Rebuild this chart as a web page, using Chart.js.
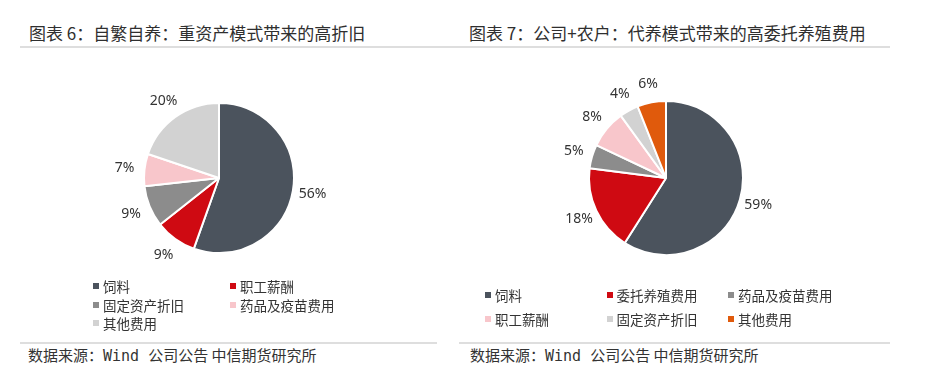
<!DOCTYPE html>
<html>
<head>
<meta charset="utf-8">
<script src="https://cdn.jsdelivr.net/npm/chart.js@4"></script>
<style>
  html, body { margin: 0; padding: 0; background: #fff; }
  body { width: 937px; height: 390px; position: relative; overflow: hidden;
         font-family: "Noto Sans CJK SC", "Noto Sans", sans-serif; color: #333; }
  .title { position: absolute; top: 22px; font-size: 17px; line-height: 22px; white-space: nowrap; color: #2f2f2f; }
  .rule { position: absolute; height: 2px; background: #dedede; }
  .source { position: absolute; top: 345px; font-size: 15px; line-height: 20px; white-space: nowrap; color: #333;
            font-family: "DejaVu Sans Mono", "Noto Sans CJK SC", monospace; }
  .source .cjk { font-family: "Noto Sans CJK SC", sans-serif; }
  .pie { position: absolute; width: 240px; height: 240px; }
  .leg { position: absolute; font-size: 13.5px; line-height: 18px; white-space: nowrap; color: #333; }
  .leg i { display: inline-block; width: 6px; height: 6px; margin-right: 4px; vertical-align: 3px; }
</style>
</head>
<body>
<div class="title" style="left:29px">图表 6：自繁自养：重资产模式带来的高折旧</div>
<div class="title" style="left:469px">图表 7：公司+农户：代养模式带来的高委托养殖费用</div>
<div class="rule" style="left:20px; width:870px; top:46px"></div>

<div class="pie" style="left:99px; top:58px"><canvas id="chartLeft"></canvas></div>
<div class="pie" style="left:546px; top:58px"><canvas id="chartRight"></canvas></div>
<div id="legendLeft"></div>
<div id="legendRight"></div>

<div class="rule" style="left:20px; width:417px; top:342px"></div>
<div class="rule" style="left:459px; width:431px; top:342px"></div>
<div class="source" style="left:28px"><span class="cjk">数据来源：</span>Wind <span class="cjk">公司公告 中信期货研究所</span></div>
<div class="source" style="left:470px"><span class="cjk">数据来源：</span>Wind <span class="cjk">公司公告 中信期货研究所</span></div>

<script>
/** 图表 6 数据 */
const LEFT_CATEGORIES = ['饲料', '职工薪酬', '固定资产折旧', '药品及疫苗费用', '其他费用'];
const LEFT_VALUES     = [56, 9, 9, 7, 20];

/** 图表 7 数据 */
const RIGHT_CATEGORIES = ['饲料', '委托养殖费用', '药品及疫苗费用', '职工薪酬', '固定资产折旧', '其他费用'];
const RIGHT_VALUES     = [59, 18, 5, 8, 4, 6];

// 两图按扇区顺序配色
const LEFT_COLORS  = ['#4b535d', '#cf0a12', '#8c8c8c', '#f8c6cb', '#d2d2d2'];
const RIGHT_COLORS = ['#4b535d', '#cf0a12', '#8c8c8c', '#f8c6cb', '#d2d2d2', '#e05a0c'];

const outsideLabels = {
  id: 'outsideLabels',
  afterDatasetsDraw(chart, args, opts) {
    const { ctx } = chart;
    const meta = chart.getDatasetMeta(0);
    const values = chart.data.datasets[0].data;
    ctx.save();
    ctx.font = "14px 'Noto Sans', sans-serif";
    ctx.fillStyle = '#333';
    ctx.textAlign = 'center';
    ctx.textBaseline = 'middle';
    meta.data.forEach((arc, i) => {
      const p = arc.getProps(['x', 'y', 'startAngle', 'endAngle', 'outerRadius'], true);
      const mid = (p.startAngle + p.endAngle) / 2;
      const r = p.outerRadius + opts.offset;
      ctx.fillText(values[i] + '%', p.x + Math.cos(mid) * r, p.y + Math.sin(mid) * r);
    });
    ctx.restore();
  },
};

function renderPie(id, values, colors, pad, offset) {
  return new Chart(document.getElementById(id), {
    type: 'pie',
    data: {
      labels: [],
      datasets: [{
        data: values,
        backgroundColor: colors,
        borderColor: '#ffffff',
        borderWidth: 2,
      }],
    },
    options: {
      responsive: true, maintainAspectRatio: false, animation: false,
      layout: { padding: pad },
      plugins: {
        legend: { display: false },
        tooltip: { enabled: false },
        outsideLabels: { offset },
      },
    },
    plugins: [outsideLabels],
  });
}

function renderLegend(id, labels, colors, x0, colW, y0, rowH, cols) {
  const host = document.getElementById(id);
  labels.forEach((lab, i) => {
    const el = document.createElement('div');
    el.className = 'leg';
    el.style.left = (x0 + (i % cols) * colW) + 'px';
    el.style.top  = (y0 + Math.floor(i / cols) * rowH - 9) + 'px';
    el.innerHTML = `<i style="background:${colors[i]}"></i>${lab}`;
    host.appendChild(el);
  });
}

renderPie('chartLeft', LEFT_VALUES, LEFT_COLORS, 44, 20);
renderPie('chartRight', RIGHT_VALUES, RIGHT_COLORS, 42, 19);
renderLegend('legendLeft', LEFT_CATEGORIES, LEFT_COLORS, 93, 137, 286, 18.5, 2);
renderLegend('legendRight', RIGHT_CATEGORIES, RIGHT_COLORS, 485, 121.5, 295, 24, 3);
</script>
</body>
</html>
